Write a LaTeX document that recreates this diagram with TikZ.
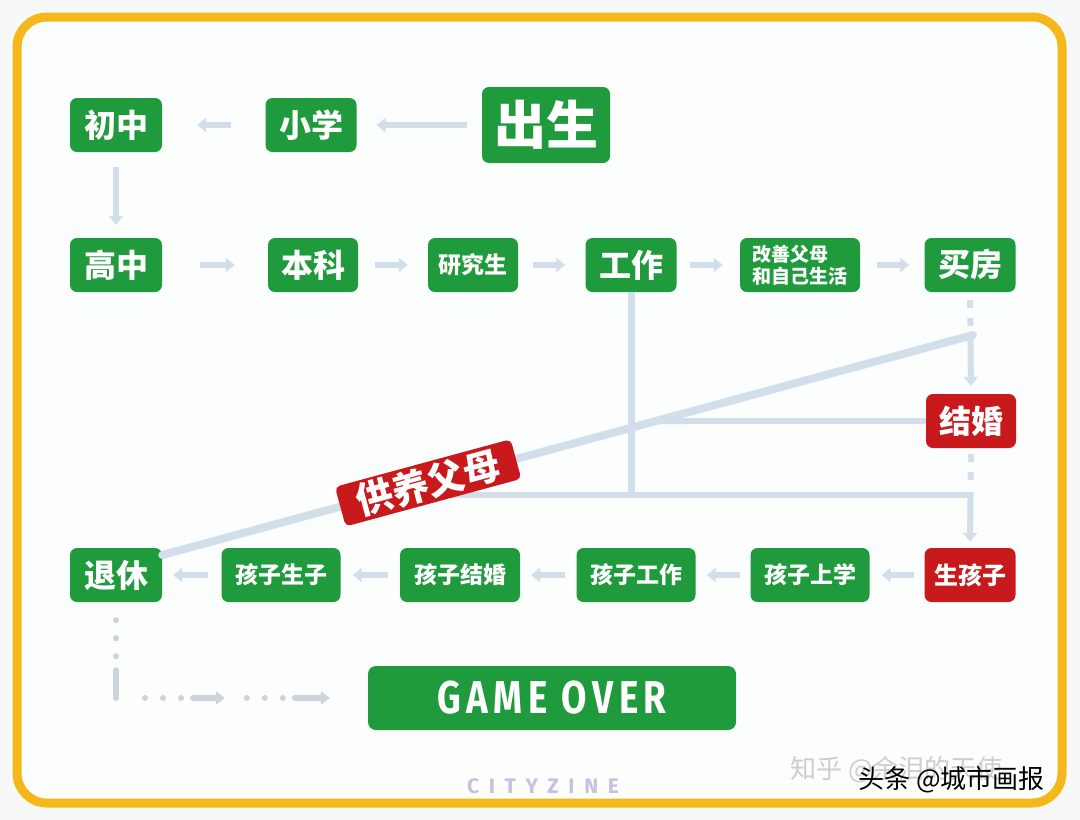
\documentclass[tikz,border=0pt]{standalone}
\usepackage{fontspec}
\newfontfamily\cjk{Noto Sans CJK SC}[BoldFont={* Black}]
\newfontfamily\cjkplain{Noto Sans CJK SC}
\newfontfamily\firasans{Fira Sans}
\usetikzlibrary{arrows.meta,calc}
\definecolor{boxgreen}{HTML}{1F9A3C}
\definecolor{boxred}{HTML}{C81A1D}
\definecolor{linec}{HTML}{D2DEE9}
\definecolor{dotc}{HTML}{CBD3DB}
\definecolor{framec}{HTML}{F4B81A}
\definecolor{cityc}{HTML}{C3C3DE}
\definecolor{wmgray}{HTML}{CDCDCD}
\definecolor{bgc}{HTML}{F7F8F8}
\definecolor{innerc}{HTML}{FCFDFD}
\newcommand\setfs[1]{\fontsize{#1}{#1}\selectfont}
\tikzset{
  gbox/.style={rectangle, fill=boxgreen, rounded corners=7pt, text=white,
    inner sep=0pt, minimum height=54pt, align=center},
  rbox/.style={gbox, fill=boxred},
  arr/.style={draw=linec, line width=6pt, -{Triangle[width=14pt,length=9pt]}},
  conn/.style={draw=linec, line width=6pt},
  dotline/.style={draw=dotc, line width=6pt, line cap=round},
}
\begin{document}
\begin{tikzpicture}[x=1pt,y=-1pt]
\useasboundingbox (0,0) rectangle (1080,820);
\fill[bgc] (0,0) rectangle (1080,820);
\draw[framec, line width=9pt, rounded corners=30pt, fill=innerc] (17,17) rectangle (1062,803);

% nodes
\node[gbox, minimum width=92pt, font=\cjk\bfseries\setfs{32}] (chuzhong) at (116,125) {初中};
\node[gbox, minimum width=91pt, font=\cjk\bfseries\setfs{32}] (xiaoxue) at (311,125) {小学};
\node[gbox, minimum width=128pt, minimum height=76pt, font=\cjk\bfseries\setfs{52}] (chusheng) at (546,125) {出生};
\node[gbox, minimum width=92pt, font=\cjk\bfseries\setfs{32}] (gaozhong) at (116,265) {高中};
\node[gbox, minimum width=90pt, font=\cjk\bfseries\setfs{32}] (benke) at (313,265) {本科};
\node[gbox, minimum width=90pt, font=\cjk\bfseries\setfs{23}] (yanjiu) at (473,265) {研究生};
\node[gbox, minimum width=91pt, font=\cjk\bfseries\setfs{32}] (gongzuo) at (631,265) {工作};
\node[gbox, minimum width=120pt, align=left, font=\cjk\bfseries\fontsize{19}{22}\selectfont] (gaishan) at (800,265) {改善父母\\和自己生活};
\node[gbox, minimum width=91pt, font=\cjk\bfseries\setfs{32}] (maifang) at (970,265) {买房};
\node[rbox, minimum width=90pt, font=\cjk\bfseries\setfs{32}] (jiehun) at (971,421) {结婚};
\node[rbox, minimum width=91pt, font=\cjk\bfseries\setfs{24}] (shengzi) at (970,575) {生孩子};
\node[gbox, minimum width=119pt, font=\cjk\bfseries\setfs{23}] (shangxue) at (810,575) {孩子上学};
\node[gbox, minimum width=119pt, font=\cjk\bfseries\setfs{23}] (kgongzuo) at (636,575) {孩子工作};
\node[gbox, minimum width=120pt, font=\cjk\bfseries\setfs{23}] (kjiehun) at (460,575) {孩子结婚};
\node[gbox, minimum width=119pt, font=\cjk\bfseries\setfs{23}] (kshengzi) at (281,575) {孩子生子};
\node[gbox, minimum width=92pt, font=\cjk\bfseries\setfs{32}] (tuixiu) at (116,575) {退休};
\node[gbox, minimum width=368pt, minimum height=64pt, rounded corners=8pt,
  font=\firasans\bfseries\setfs{46}] (gameover) at (552,698)
  {\scalebox{0.8}[1]{\addfontfeature{LetterSpace=15}GAME OVER}};

% top rows
\draw[arr, shorten <=15pt, shorten >=20pt] (chusheng.west) -- (xiaoxue.east);
\draw[arr, shorten <=34pt, shorten >=35pt] (xiaoxue.west) -- (chuzhong.east);
\draw[arr, shorten <=15pt, shorten >=13pt] (chuzhong.south) -- (gaozhong.north);
\draw[arr, shorten <=38pt, shorten >=33pt] (gaozhong.east) -- (benke.west);
\draw[arr, shorten <=17pt, shorten >=20pt] (benke.east) -- (yanjiu.west);
\draw[arr, shorten <=15pt, shorten >=20pt] (yanjiu.east) -- (gongzuo.west);
\draw[arr, shorten <=13pt, shorten >=17pt] (gongzuo.east) -- (gaishan.west);
\draw[arr, shorten <=17pt, shorten >=15pt] (gaishan.east) -- (maifang.west);

% right column
\draw[arr, shorten <=8pt, shorten >=8pt, dash pattern=on 8pt off 10pt on 8pt off 10pt on 300pt off 0pt] (maifang.south) -- (jiehun.north);
\draw[arr, shorten <=6pt, shorten >=6pt, dash pattern=on 8pt off 10pt on 8pt off 12pt on 300pt off 0pt] (jiehun.south) -- (shengzi.north);

% bottom row
\draw[arr, shorten <=10pt, shorten >=12pt] (shengzi.west) -- (shangxue.east);
\draw[arr, shorten <=10pt, shorten >=11pt] (shangxue.west) -- (kgongzuo.east);
\draw[arr, shorten <=11pt, shorten >=11pt] (kgongzuo.west) -- (kjiehun.east);
\draw[arr, shorten <=12pt, shorten >=12pt] (kjiehun.west) -- (kshengzi.east);
\draw[arr, shorten <=13pt, shorten >=11pt] (kshengzi.west) -- (tuixiu.east);

% to game over
\coordinate (corner) at (tuixiu.south |- gameover.west);
\coordinate (m1) at ([xshift=-143pt]gameover.west);
\coordinate (m2) at ([xshift=-121pt]gameover.west);
\coordinate (m3) at ([xshift=-38pt]gameover.west);
\draw[dotline, shorten <=18pt, dash pattern=on 0pt off 18pt on 0pt off 18pt on 0pt off 14pt on 300pt off 0pt] (tuixiu.south) -- (corner);
\draw[dotline, -{Triangle[width=13pt,length=9pt]}, shorten <=29pt, dash pattern=on 0pt off 18pt on 0pt off 18pt on 0pt off 12pt on 300pt off 0pt] (corner) -- (m1);
\draw[dotline, -{Triangle[width=13pt,length=9pt]}, dash pattern=on 0pt off 18pt on 0pt off 18pt on 0pt off 12pt on 300pt off 0pt] (m2) -- (m3);

% support lines
\coordinate (dstart) at ($(tuixiu.east)+(0,-20)$);
\coordinate (jm) at (973,335);
\coordinate (jh) at (973,495);
\coordinate (jhl) at (116,495);
\draw[conn] (jiehun.west) -- (intersection of dstart--jm and jiehun.west--jiehun.east);
\draw[conn] (jh) -- (intersection of dstart--jm and jh--jhl);
\draw[conn, line width=7pt] (gongzuo.south) -- (gongzuo.south |- jh);
\draw[conn, line width=8pt, line cap=round] (dstart) -- (jm)
  node[pos=0.328, sloped, fill=boxred, rounded corners=5pt, text=white, inner sep=0pt,
       minimum width=182pt, minimum height=41pt, font=\cjk\bfseries\setfs{37}] (gongyang) {供养父母};

% credits
\node[text=cityc, font=\firasans\bfseries\setfs{21}] (cityzine) at (543,786) {\addfontfeature{LetterSpace=46}CITYZINE};
\node[anchor=west, text=wmgray, font=\cjkplain\setfs{26}, inner sep=0pt] (zhihu) at (790,770) {知乎 @余泪的天使};
\node[anchor=west, text=black, font=\cjkplain\setfs{26}, inner sep=0pt] (toutiao) at (858,780) {头条 @城市画报};
\end{tikzpicture}
\end{document}
